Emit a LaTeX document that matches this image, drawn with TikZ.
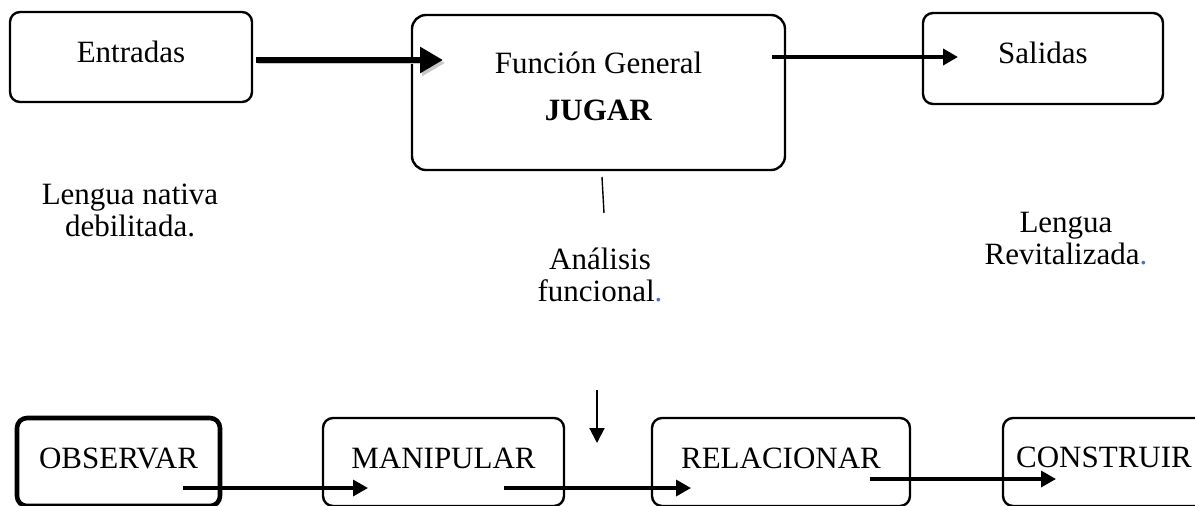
\documentclass[tikz,border=0pt]{standalone}
\usepackage{fontspec}
\setmainfont{Liberation Serif}
\usetikzlibrary{arrows.meta}
\definecolor{dotblue}{RGB}{68,114,196}

\begin{document}
\begin{tikzpicture}[
    x=.5pt, y=-.5pt,
    every node/.style={font=\fontsize{15.5}{16}\selectfont},
    box/.style={draw=black, line width=1.2pt, rounded corners=5pt,
        inner sep=0pt},
    note/.style={align=center, inner sep=0pt},
    flow/.style={draw=black, line width=1.7pt,
        -{Triangle[length=7.5pt, width=8pt]}},
    feed/.style={draw=black, line width=3pt,
        -{Triangle[length=11.5pt, width=12.5pt]},
        preaction={draw=black!22, transform canvas={shift={(2,3)}}}},
]
    \useasboundingbox (0, 0) rectangle (1195, 505);

    %% the top row: inputs, general function, outputs
    \node[box, minimum width=121pt, minimum height=45pt, text depth=5pt]
        (entradas) at (131, 57) {Entradas};
    \node[box, rounded corners=7pt, minimum width=186.5pt,
        minimum height=77.5pt, align=center, text depth=6pt] (funcion)
        at (598.5, 92.5) {Función General\\[7.5pt]\textbf{JUGAR}};
    \node[box, minimum width=120pt, minimum height=45.5pt, text depth=6pt]
        (salidas) at (1043, 58.5) {Salidas};

    %% the notes under the top row
    \node[note] (nativa) at (130, 210) {Lengua nativa\\debilitada.};
    \node[note] (analisis) at (600, 275)
        {Análisis\\funcional{\color{dotblue}.}};
    \node[note] (revital) at (1066, 239)
        {Lengua\\Revitalizada{\color{dotblue}.}};

    %% the bottom row of steps, cut off by the bottom edge
    \node[box, line width=2.3pt, minimum width=101.5pt,
        minimum height=44pt, text depth=4pt] (observar) at (118.5, 462)
        {OBSERVAR};
    \node[box, minimum width=120.5pt, minimum height=44pt, text depth=4pt]
        (manipular) at (443.5, 462) {MANIPULAR};
    \node[box, minimum width=129pt, minimum height=44pt, text depth=4pt]
        (relacionar) at (781, 462) {RELACIONAR};
    \node[box, minimum width=101pt, minimum height=44pt, text depth=5pt]
        (construir) at (1104, 462) {CONSTRUIR};

    %% free ends of the connectors
    \coordinate (entradas-out) at (256, 60);
    \coordinate (funcion-in) at (443, 60);
    \coordinate (funcion-out) at (772, 57);
    \coordinate (salidas-in) at (958, 57);
    \coordinate (funcion-foot) at (602, 177);
    \coordinate (analisis-head) at (604, 213);
    \coordinate (analisis-foot) at (597, 390);
    \coordinate (pasos-in) at (597, 443);
    \coordinate (observar-out) at (183, 488);
    \coordinate (manipular-in) at (368, 488);
    \coordinate (manipular-out) at (504, 488);
    \coordinate (relacionar-in) at (691, 488);
    \coordinate (relacionar-out) at (870, 479);
    \coordinate (construir-in) at (1056, 479);

    %% connectors
    \draw[feed] (entradas-out) -- (funcion-in);
    \draw[flow, line width=2pt] (funcion-out) -- (salidas-in);
    \draw[line width=.7pt] (funcion-foot) -- (analisis-head);
    \draw[line width=1pt, -{Triangle[length=7.5pt, width=7.5pt]}]
        (analisis-foot) -- (pasos-in);
    \draw[flow] (observar-out) -- (manipular-in);
    \draw[flow] (manipular-out) -- (relacionar-in);
    \draw[flow] (relacionar-out) -- (construir-in);
\end{tikzpicture}
\end{document}
